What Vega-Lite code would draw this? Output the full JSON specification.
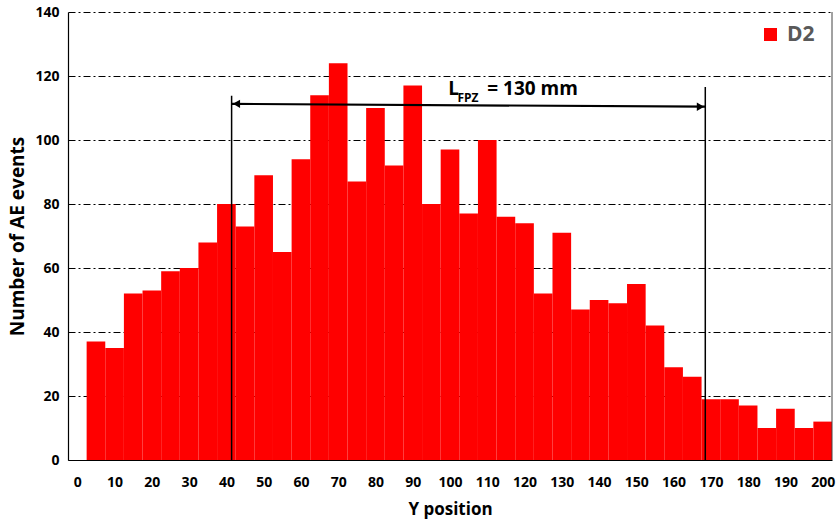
{
  "$schema": "https://vega.github.io/schema/vega-lite/v6.json",
  "width": 764,
  "height": 448,
  "autosize": "none",
  "padding": {"left": 68, "top": 12, "right": 5, "bottom": 66},
  "background": "white",
  "config": {
    "view": {"stroke": null},
    "font": "Open Sans",
    "scale": {"continuousPadding": 0},
    "axis": {
      "labelFont": "Open Sans", "labelFontWeight": "bold", "labelFontSize": 14, "labelColor": "#000000",
      "titleFont": "Open Sans", "titleFontWeight": "bold", "titleFontSize": 17, "titleColor": "#000000",
      "domainColor": "#000000", "domainWidth": 1.2, "ticks": false, "labelOverlap": false
    }
  },
  "datasets": {
    "bars": [
      {"start": 2.5, "end": 7.5, "count": 37, "series": "D2"},
      {"start": 7.5, "end": 12.5, "count": 35, "series": "D2"},
      {"start": 12.5, "end": 17.5, "count": 52, "series": "D2"},
      {"start": 17.5, "end": 22.5, "count": 53, "series": "D2"},
      {"start": 22.5, "end": 27.5, "count": 59, "series": "D2"},
      {"start": 27.5, "end": 32.5, "count": 60, "series": "D2"},
      {"start": 32.5, "end": 37.5, "count": 68, "series": "D2"},
      {"start": 37.5, "end": 42.5, "count": 80, "series": "D2"},
      {"start": 42.5, "end": 47.5, "count": 73, "series": "D2"},
      {"start": 47.5, "end": 52.5, "count": 89, "series": "D2"},
      {"start": 52.5, "end": 57.5, "count": 65, "series": "D2"},
      {"start": 57.5, "end": 62.5, "count": 94, "series": "D2"},
      {"start": 62.5, "end": 67.5, "count": 114, "series": "D2"},
      {"start": 67.5, "end": 72.5, "count": 124, "series": "D2"},
      {"start": 72.5, "end": 77.5, "count": 87, "series": "D2"},
      {"start": 77.5, "end": 82.5, "count": 110, "series": "D2"},
      {"start": 82.5, "end": 87.5, "count": 92, "series": "D2"},
      {"start": 87.5, "end": 92.5, "count": 117, "series": "D2"},
      {"start": 92.5, "end": 97.5, "count": 80, "series": "D2"},
      {"start": 97.5, "end": 102.5, "count": 97, "series": "D2"},
      {"start": 102.5, "end": 107.5, "count": 77, "series": "D2"},
      {"start": 107.5, "end": 112.5, "count": 100, "series": "D2"},
      {"start": 112.5, "end": 117.5, "count": 76, "series": "D2"},
      {"start": 117.5, "end": 122.5, "count": 74, "series": "D2"},
      {"start": 122.5, "end": 127.5, "count": 52, "series": "D2"},
      {"start": 127.5, "end": 132.5, "count": 71, "series": "D2"},
      {"start": 132.5, "end": 137.5, "count": 47, "series": "D2"},
      {"start": 137.5, "end": 142.5, "count": 50, "series": "D2"},
      {"start": 142.5, "end": 147.5, "count": 49, "series": "D2"},
      {"start": 147.5, "end": 152.5, "count": 55, "series": "D2"},
      {"start": 152.5, "end": 157.5, "count": 42, "series": "D2"},
      {"start": 157.5, "end": 162.5, "count": 29, "series": "D2"},
      {"start": 162.5, "end": 167.5, "count": 26, "series": "D2"},
      {"start": 167.5, "end": 172.5, "count": 19, "series": "D2"},
      {"start": 172.5, "end": 177.5, "count": 19, "series": "D2"},
      {"start": 177.5, "end": 182.5, "count": 17, "series": "D2"},
      {"start": 182.5, "end": 187.5, "count": 10, "series": "D2"},
      {"start": 187.5, "end": 192.5, "count": 16, "series": "D2"},
      {"start": 192.5, "end": 197.5, "count": 10, "series": "D2"},
      {"start": 197.5, "end": 202.5, "count": 12, "series": "D2"}
    ],
    "verticals": [
      {"x": 41.4, "y0": 0, "y1": 113.8},
      {"x": 168.5, "y0": 0, "y1": 116.6}
    ],
    "arrow": [
      {"x": 41.4, "x2": 168.5, "y": 111.3, "y2": 110.4}
    ],
    "heads": [
      {"x": 42.7, "y": 111.3, "dir": "left"},
      {"x": 167.2, "y": 110.4, "dir": "right"}
    ],
    "labels": [
      {"x": 99.5, "y": 114.1, "text": "L", "part": "main"},
      {"x": 110.0, "y": 114.1, "text": "= 130 mm", "part": "main"},
      {"x": 102.0, "y": 112.0, "text": "FPZ", "part": "sub"}
    ],
    "border": [
      {"x": 202.5, "y0": 0, "y1": 140}
    ]
  },
  "layer": [
    {
      "data": {"name": "bars"},
      "mark": {"type": "bar", "color": "#FF0000", "orient": "vertical"},
      "encoding": {
        "x": {
          "field": "start", "type": "quantitative",
          "scale": {"domain": [-2.5, 202.5], "nice": false, "zero": false, "padding": 0},
          "axis": {"values": [0,10,20,30,40,50,60,70,80,90,100,110,120,130,140,150,160,170,180,190,200], "grid": false, "title": "Y position", "labelPadding": 15, "titlePadding": 12, "labelFlush": false, "labelOverlap": false}
        },
        "x2": {"field": "end"},
        "y": {
          "field": "count", "type": "quantitative",
          "scale": {"domain": [0, 140], "nice": false, "padding": 0},
          "axis": {"values": [0,20,40,60,80,100,120,140], "grid": true, "gridColor": "#000000", "gridDash": [7,3,2,3], "gridWidth": 1, "title": "Number of AE events", "titleFontSize": 19, "labelPadding": 9, "titlePadding": 7}
        },
        "y2": {"datum": 0},
        "color": {
          "field": "series", "type": "nominal",
          "scale": {"range": ["#FF0000"]},
          "legend": {"orient": "none", "legendX": 692, "legendY": 12, "title": null, "symbolType": "square", "symbolSize": 169, "symbolStrokeWidth": 0, "labelFontSize": 21, "labelFontWeight": "bold", "labelColor": "#595959", "labelFont": "Open Sans", "padding": 0, "labelOffset": 6}
        }
      }
    },
    {
      "data": {"name": "border"},
      "mark": {"type": "rule", "color": "#444444", "strokeWidth": 1},
      "encoding": {
        "x": {"field": "x", "type": "quantitative", "axis": {"values": [0,10,20,30,40,50,60,70,80,90,100,110,120,130,140,150,160,170,180,190,200], "grid": false, "title": "Y position", "labelPadding": 15, "titlePadding": 12, "labelFlush": false, "labelOverlap": false}},
        "y": {"field": "y0", "type": "quantitative"},
        "y2": {"field": "y1"}
      }
    },
    {
      "data": {"name": "verticals"},
      "mark": {"type": "rule", "color": "#000000", "strokeWidth": 1.5},
      "encoding": {
        "x": {"field": "x", "type": "quantitative", "axis": {"values": [0,10,20,30,40,50,60,70,80,90,100,110,120,130,140,150,160,170,180,190,200], "grid": false, "title": "Y position", "labelPadding": 15, "titlePadding": 12, "labelFlush": false, "labelOverlap": false}},
        "y": {"field": "y0", "type": "quantitative"},
        "y2": {"field": "y1"}
      }
    },
    {
      "data": {"name": "arrow"},
      "mark": {"type": "rule", "color": "#000000", "strokeWidth": 2.2},
      "encoding": {
        "x": {"field": "x", "type": "quantitative", "axis": {"values": [0,10,20,30,40,50,60,70,80,90,100,110,120,130,140,150,160,170,180,190,200], "grid": false, "title": "Y position", "labelPadding": 15, "titlePadding": 12, "labelFlush": false, "labelOverlap": false}},
        "x2": {"field": "x2"},
        "y": {"field": "y", "type": "quantitative"},
        "y2": {"field": "y2"}
      }
    },
    {
      "data": {"name": "heads"},
      "mark": {"type": "point", "filled": true, "color": "#000000", "opacity": 1, "size": 70},
      "encoding": {
        "x": {"field": "x", "type": "quantitative", "axis": {"values": [0,10,20,30,40,50,60,70,80,90,100,110,120,130,140,150,160,170,180,190,200], "grid": false, "title": "Y position", "labelPadding": 15, "titlePadding": 12, "labelFlush": false, "labelOverlap": false}},
        "y": {"field": "y", "type": "quantitative"},
        "shape": {"field": "dir", "type": "nominal", "scale": {"domain": ["left", "right"], "range": ["triangle-left", "triangle-right"]}, "legend": null}
      }
    },
    {
      "data": {"name": "labels"},
      "mark": {"type": "text", "align": "left", "baseline": "alphabetic", "fontWeight": "bold", "font": "Open Sans", "color": "#000000"},
      "encoding": {
        "x": {"field": "x", "type": "quantitative", "axis": {"values": [0,10,20,30,40,50,60,70,80,90,100,110,120,130,140,150,160,170,180,190,200], "grid": false, "title": "Y position", "labelPadding": 15, "titlePadding": 12, "labelFlush": false, "labelOverlap": false}},
        "y": {"field": "y", "type": "quantitative"},
        "text": {"field": "text"},
        "size": {"field": "part", "type": "nominal", "scale": {"domain": ["main", "sub"], "range": [19, 12]}, "legend": null}
      }
    }
  ]
}
